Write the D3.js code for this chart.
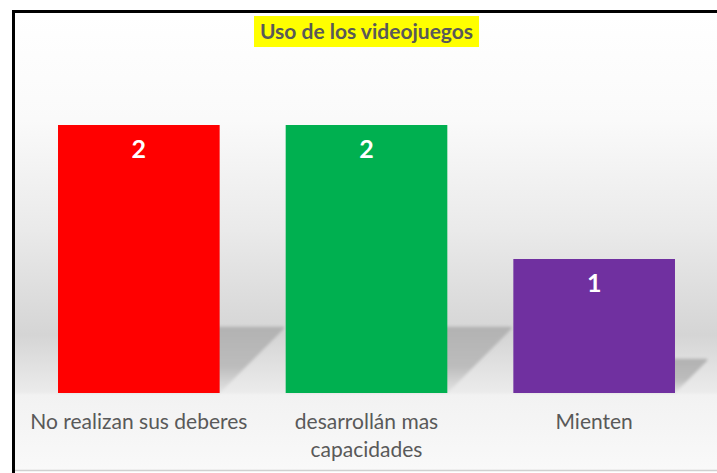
<!DOCTYPE html>
<html>
<head>
<meta charset="utf-8">
<script src="https://cdn.jsdelivr.net/npm/d3@7"></script>
<style>
  html, body { margin: 0; padding: 0; background: #fff; }
  svg { display: block; }
</style>
</head>
<body>
<div id="chart"></div>
<script>
// chart data
const title = 'Uso de los videojuegos';
const categories = ['No realizan sus deberes', 'desarrollán mas capacidades', 'Mienten'];
const values = [2, 2, 1];
const colors = ['#ff0000', '#00b050', '#7030a0'];

const width = 717;
const height = 473;

const svg = d3.select('#chart')
    .append('svg')
    .attr('width', width)
    .attr('height', height);

const defs = svg.append('defs');

// wall / floor background gradient
const bg = defs.append('linearGradient')
    .attr('id', 'bgGrad')
    .attr('gradientUnits', 'userSpaceOnUse')
    .attr('x1', 0).attr('y1', 13).attr('x2', 0).attr('y2', 470);
[[13, '#ffffff'], [120, '#fafafa'], [230, '#eaeaea'], [335, '#d5d5d5'], [392, '#ebebeb'],
 [395, '#f2f2f2'], [470, '#f9f9f9']].forEach(s => {
    bg.append('stop')
        .attr('offset', (s[0] - 13) / (470 - 13))
        .attr('stop-color', s[1]);
});

const shadowGrad = defs.append('linearGradient')
    .attr('id', 'shadowGrad')
    .attr('x1', 0).attr('y1', 0).attr('x2', 0).attr('y2', 1);
shadowGrad.append('stop').attr('offset', 0).attr('stop-color', '#b2b2b2');
shadowGrad.append('stop').attr('offset', 0.6).attr('stop-color', '#bcbcbc');
shadowGrad.append('stop').attr('offset', 1).attr('stop-color', '#e4e4e4');

defs.append('filter')
    .attr('id', 'blur')
    .attr('x', '-20%').attr('y', '-20%').attr('width', '140%').attr('height', '140%')
    .append('feGaussianBlur')
    .attr('stdDeviation', 1.6);

svg.append('rect')
    .attr('x', 13).attr('y', 12)
    .attr('width', width + 10).attr('height', 458)
    .attr('fill', 'url(#bgGrad)');

// bottom light edge
svg.append('line')
    .attr('x1', 13).attr('x2', width)
    .attr('y1', 470.5).attr('y2', 470.5)
    .attr('stroke', '#d0d0d0')
    .attr('stroke-width', 1.5);

// black frame (top and left)
svg.append('path')
    .attr('d', `M13.5,${height} L13.5,11.5 L${width},11.5`)
    .attr('fill', 'none')
    .attr('stroke', '#000')
    .attr('stroke-width', 3);

// title with highlight
const titleG = svg.append('g');
titleG.append('rect')
    .attr('x', 254).attr('y', 16)
    .attr('width', 225).attr('height', 31)
    .attr('fill', '#ffff00');
titleG.append('text')
    .attr('x', 366.5)
    .attr('y', 39)
    .attr('text-anchor', 'middle')
    .attr('fill', '#595959')
    .style('font-family', 'Lato, "Open Sans", sans-serif')
    .style('font-weight', 'bold')
    .style('font-size', '21px')
    .text(title);

// scales
const xScale = d3.scaleBand()
    .domain(categories)
    .range([25, 708])
    .paddingInner(0.29)
    .paddingOuter(0.145);

const yScale = d3.scaleLinear()
    .domain([0, 2])
    .range([393, 125]);

const chart = svg.append('g');

// perspective shadows behind bars
chart.selectAll('.shadow')
    .data(values)
    .enter()
    .append('path')
    .classed('shadow', true)
    .attr('d', (d, i) => {
        const x0 = xScale(categories[i]);
        const x1 = x0 + xScale.bandwidth();
        const h = yScale(0) - yScale(d);
        const off = h * 0.24;
        const base = yScale(0);
        return `M${x0},${base} L${x1},${base} L${x1 + off},${base - off} L${x1 + off},${base - off - 2} ` +
            `L${x0 + off},${base - off - 2} Z`;
    })
    .attr('fill', 'url(#shadowGrad)')
    .attr('filter', 'url(#blur)');

chart.selectAll('.bar')
    .data(values)
    .enter()
    .append('rect')
    .classed('bar', true)
    .attr('x', (d, i) => xScale(categories[i]))
    .attr('y', d => yScale(d))
    .attr('width', xScale.bandwidth())
    .attr('height', d => yScale(0) - yScale(d))
    .attr('fill', (d, i) => colors[i]);

chart.selectAll('.bar-label')
    .data(values)
    .enter()
    .append('text')
    .classed('bar-label', true)
    .attr('x', (d, i) => xScale(categories[i]) + xScale.bandwidth() / 2)
    .attr('y', d => yScale(d) + 33)
    .attr('text-anchor', 'middle')
    .attr('fill', '#fff')
    .style('font-family', 'Lato, "Open Sans", sans-serif')
    .style('font-weight', 'bold')
    .style('font-size', '25px')
    .text(d => d);

// category axis, wrapped labels
const xAxis = d3.axisBottom(xScale).tickSize(0).tickPadding(0);
const axisG = svg.append('g')
    .attr('transform', `translate(0,${yScale(0)})`)
    .call(xAxis);
axisG.select('.domain').remove();

const wrapLines = {
    'desarrollán mas capacidades': ['desarrollán mas', 'capacidades']
};

axisG.selectAll('.tick text').each(function(d) {
    const t = d3.select(this);
    const lines = wrapLines[d] || [d];
    t.text(null)
        .attr('y', 0)
        .attr('dy', null)
        .attr('fill', '#595959')
        .style('font-family', 'Lato, "Open Sans", sans-serif')
        .style('font-size', '21px');
    lines.forEach((line, k) => {
        t.append('tspan')
            .attr('x', 0)
            .attr('y', 36 + k * 28)
            .text(line);
    });
});
</script>
</body>
</html>
